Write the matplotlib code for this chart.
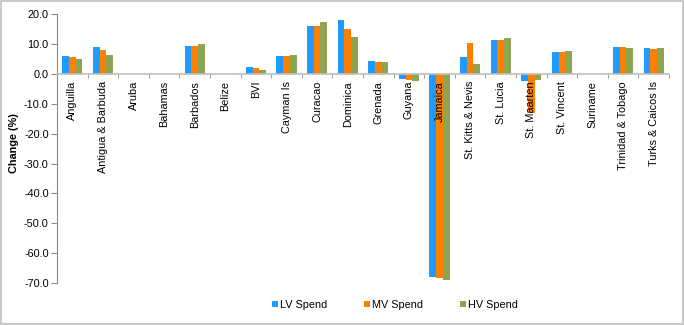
import matplotlib
matplotlib.use("Agg")
import matplotlib.pyplot as plt
import numpy as np
from matplotlib.patches import Rectangle, Patch

plt.rcParams['font.family'] = ['Liberation Sans', 'DejaVu Sans']

countries = ["Anguilla", "Antigua & Barbuda", "Aruba", "Bahamas", "Barbados", "Belize",
             "BVI", "Cayman Is", "Curacao", "Dominica", "Grenada", "Guyana", "Jamaica",
             "St. Kitts & Nevis", "St. Lucia", "St. Maarten", "St. Vincent", "Suriname",
             "Trinidad & Tobago", "Turks & Caicos Is"]
lv_spend = [6.0, 9.0, 0, 0, 9.3, 0, 2.3, 6.0, 16.0, 18.0, 4.3, -1.8, -68.0,
            5.7, 11.3, -2.2, 7.3, 0, 9.0, 8.7]
mv_spend = [5.7, 8.0, 0, 0, 9.3, 0, 2.0, 6.0, 16.0, 15.0, 4.0, -2.0, -68.2,
            10.3, 11.3, -12.9, 7.3, 0, 9.0, 8.3]
hv_spend = [5.0, 6.3, 0, 0, 10.0, 0, 1.3, 6.3, 17.3, 12.3, 4.0, -2.3, -69.0,
            3.3, 12.0, -2.1, 7.7, 0, 8.7, 8.7]
series_names = ["LV Spend", "MV Spend", "HV Spend"]
colors = ["#1E9BFF", "#FF8000", "#8DA452"]
y_ticks = [20, 10, 0, -10, -20, -30, -40, -50, -60, -70]

fig = plt.figure(figsize=(6.84, 3.25), dpi=100)
ax = fig.add_axes([57/684, 1-283/325, (669-57)/684, (283-14.3)/325])

x = np.arange(len(countries))
w = 0.22
for i, (vals, c) in enumerate(zip([lv_spend, mv_spend, hv_spend], colors)):
    ax.bar(x + (i-1)*w, vals, width=w, color=c, zorder=1)

ax.set_xlim(-0.5, len(countries)-0.5)
ax.set_ylim(-70, 20)
ax.set_yticks(y_ticks)
ax.set_yticklabels([f"{v:.1f}" for v in y_ticks], fontsize=7.8)

for s in ['top', 'right']:
    ax.spines[s].set_visible(False)
ax.spines['left'].set_color('#8C8C8C')
ax.spines['bottom'].set_position(('data', 0))
ax.spines['bottom'].set_color('#BFBFBF')
ax.spines['bottom'].set_linewidth(1.2)

ax.set_xticks(x)
ax.set_xticklabels(countries, rotation=90, fontsize=7.8, va='top', ha='center')
ax.tick_params(axis='x', which='major', length=0, pad=5)
ax.set_xticks(np.arange(-0.5, len(countries)), minor=True)
ax.tick_params(axis='x', which='minor', length=3, color='#8C8C8C', direction='out')
ax.tick_params(axis='y', length=4, color='#8C8C8C', direction='out', pad=2)

fig.text(0.02, 1-143/325, "Change (%)", rotation=90, fontsize=7.8, fontweight='bold',
         ha='center', va='center')

handles = [Patch(facecolor=c, edgecolor='none') for c in colors]
fig.legend(handles, series_names, loc='center', bbox_to_anchor=(0.577, 1-305/325),
           ncol=3, frameon=False, fontsize=7.8, handlelength=0.55, handleheight=0.55,
           handletextpad=0.2, columnspacing=3.4)

fig.patches.append(Rectangle((0.001, 0.002), 0.997, 0.995, transform=fig.transFigure,
                             fill=False, edgecolor='#BFBFBF', linewidth=1.2))

fig.savefig("out.png", dpi=100)
